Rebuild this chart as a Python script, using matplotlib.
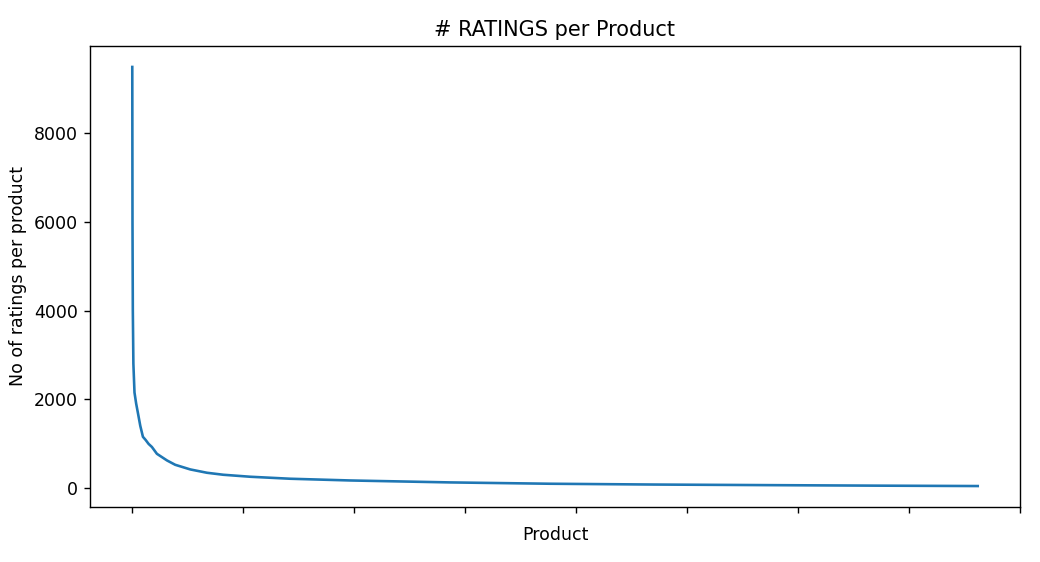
# ratings per product, sorted descending (long tail)

import numpy as np
import matplotlib.pyplot as plt

# product rank (position after sorting) and number of ratings
product_rank = [0, 2, 5, 10, 20, 35, 50, 72, 96, 120, 147, 177, 222, 313, 387,
                523, 673, 820, 1063, 1423, 1964, 2865, 3766, 4700, 5703, 6700, 7622]
n_ratings = [9500, 6000, 4000, 2800, 2150, 1900, 1700, 1400, 1150, 1080, 990, 920,
             766, 616, 518, 413, 338, 293, 248, 203, 164, 120, 90, 72, 59, 47, 38]

# rendered at dpi 125 like the notebook output
fig = plt.figure(figsize=(1040 / 125, 562 / 125), dpi=125)
ax = fig.add_axes([90 / 1040, 55 / 562, 930 / 1040, 461 / 562])

ax.plot(product_rank, n_ratings)
ax.set_title("# RATINGS per Product")
ax.set_xlabel("Product")
ax.set_ylabel("No of ratings per product")
ax.set_xticks(np.arange(0, 9000, 1000))
ax.set_xticklabels([])

fig.savefig("out.png", dpi=125)
